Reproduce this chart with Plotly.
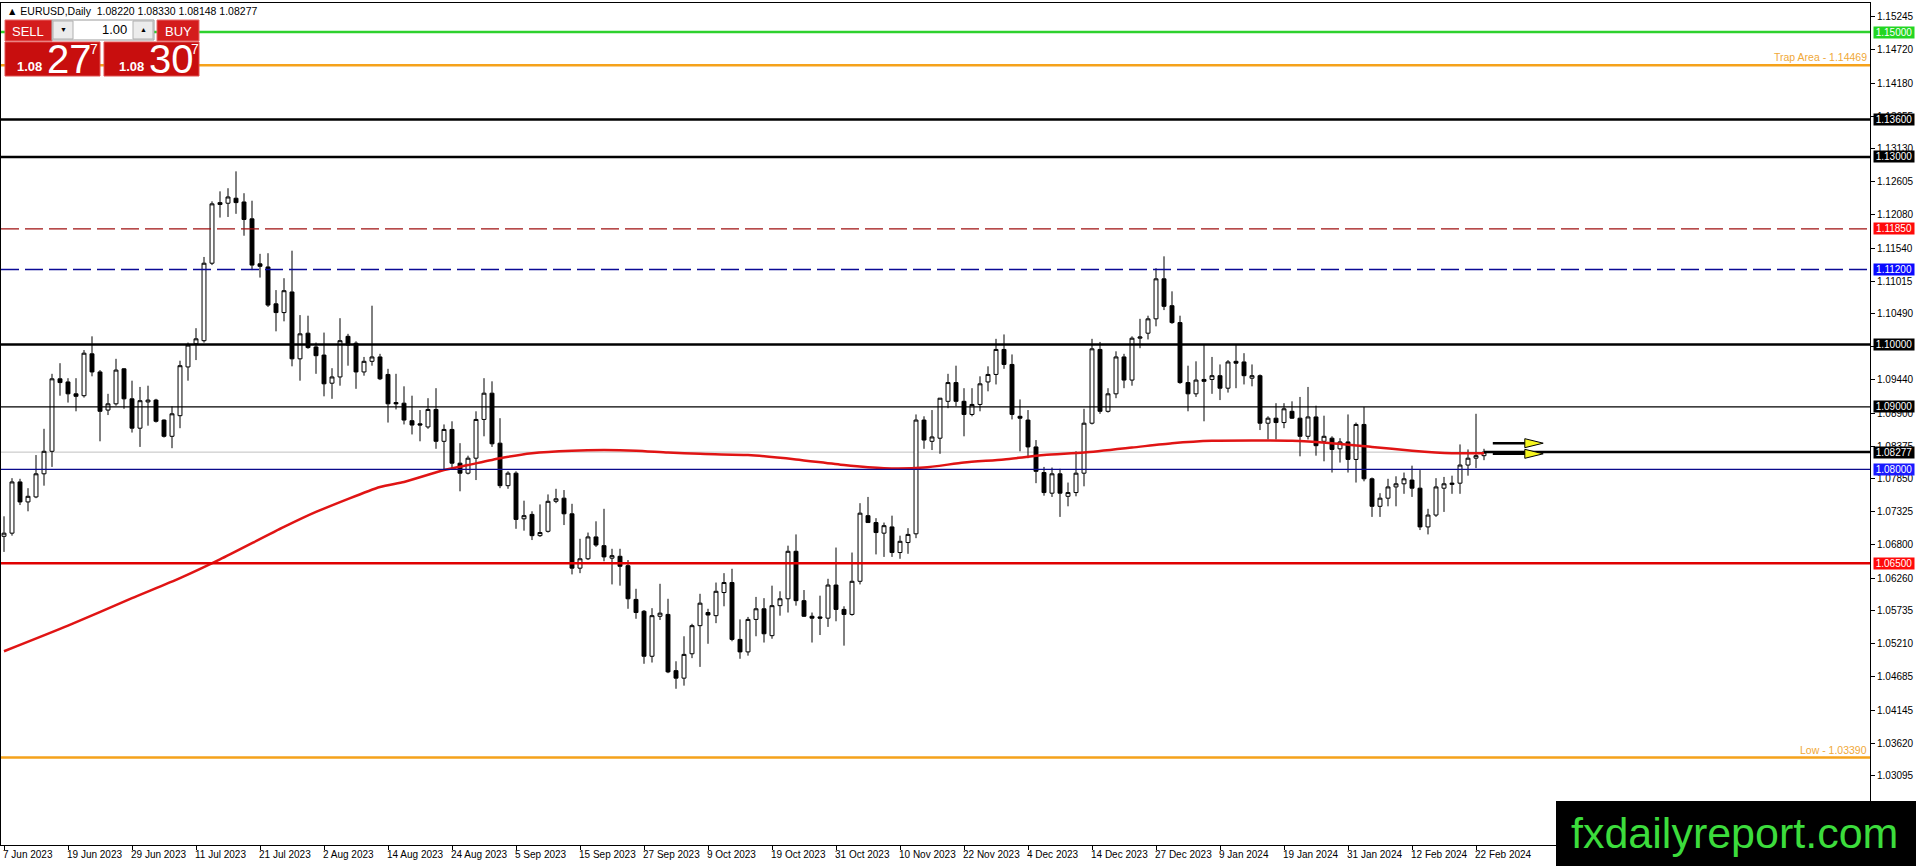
import plotly.graph_objects as go

# canvas and plot-area margins (pixels)
W, H = 1916, 866
ML, MR, MT, MB = 1, 46, 3, 21

# --- daily bars, 7 Jun 2023 .. 23 Feb 2024 ---
opens = [1.0693, 1.0698, 1.0780, 1.0748, 1.0756, 1.0793, 1.0829, 1.0945, 1.0940, 1.0921,
         1.0918, 1.0985, 1.0956, 1.0895, 1.0905, 1.0961, 1.0913, 1.0866, 1.0908, 1.0911,
         1.0879, 1.0853, 1.0886, 1.0964, 1.1001, 1.1006, 1.1130, 1.1224, 1.1226, 1.1234,
         1.1228, 1.1201, 1.1129, 1.1124, 1.1065, 1.1051, 1.1084, 1.0977, 1.1018, 1.0996,
         1.0983, 1.0938, 1.0948, 1.1013, 1.1002, 1.0956, 1.0973, 1.0980, 1.0952, 1.0907,
         1.0906, 1.0878, 1.0873, 1.0868, 1.0896, 1.0845, 1.0864, 1.0810, 1.0794, 1.0818,
         1.0880, 1.0922, 1.0842, 1.0774, 1.0794, 1.0721, 1.0728, 1.0694, 1.0701, 1.0749,
         1.0754, 1.0729, 1.0642, 1.0657, 1.0692, 1.0678, 1.0658, 1.0661, 1.0646, 1.0592,
         1.0573, 1.0501, 1.0565, 1.0568, 1.0478, 1.0466, 1.0505, 1.0550, 1.0571, 1.0566,
         1.0603, 1.0619, 1.0528, 1.0508, 1.0560, 1.0577, 1.0534, 1.0582, 1.0593, 1.0669,
         1.0590, 1.0565, 1.0564, 1.0562, 1.0615, 1.0576, 1.0568, 1.0621, 1.0726, 1.0715,
         1.0698, 1.0708, 1.0667, 1.0683, 1.0697, 1.0879, 1.0845, 1.0850, 1.0909, 1.0939,
         1.0909, 1.0888, 1.0904, 1.0940, 1.0952, 1.0992, 1.0968, 1.0885, 1.0879, 1.0836,
         1.0795, 1.0762, 1.0793, 1.0757, 1.0763, 1.0794, 1.0874, 1.0992, 1.0893, 1.0921,
         1.0980, 1.0943, 1.1010, 1.1018, 1.1041, 1.1105, 1.1062, 1.1035, 1.0939, 1.0921,
         1.0944, 1.0944, 1.0950, 1.0930, 1.0973, 1.0972, 1.0946, 1.0950, 1.0874, 1.0882,
         1.0875, 1.0893, 1.0882, 1.0853, 1.0884, 1.0845, 1.0850, 1.0833, 1.0844, 1.0816,
         1.0872, 1.0785, 1.0741, 1.0754, 1.0772, 1.0777, 1.0783, 1.0770, 1.0708, 1.0727,
         1.0770, 1.0776, 1.0778, 1.0807, 1.0818, 1.08220]
highs = [1.0725, 1.0786, 1.0785, 1.0770, 1.0823, 1.0865, 1.0953, 1.0970, 1.0946, 1.0946,
         1.0991, 1.1013, 1.0959, 1.0921, 1.0977, 1.0962, 1.0942, 1.0932, 1.0934, 1.0913,
         1.0880, 1.0901, 1.0974, 1.1003, 1.1026, 1.1140, 1.1229, 1.1245, 1.1250, 1.1277,
         1.1242, 1.1230, 1.1145, 1.1146, 1.1087, 1.1106, 1.1150, 1.1047, 1.1046, 1.1003,
         1.1019, 1.0962, 1.1042, 1.1017, 1.1005, 1.0980, 1.1062, 1.0985, 1.0961, 1.0953,
         1.0933, 1.0918, 1.0895, 1.0914, 1.0930, 1.0872, 1.0877, 1.0842, 1.0822, 1.0893,
         1.0946, 1.0941, 1.0882, 1.0797, 1.0797, 1.0750, 1.0733, 1.0744, 1.0760, 1.0769,
         1.0767, 1.0745, 1.0689, 1.0699, 1.0717, 1.0737, 1.0673, 1.0673, 1.0655, 1.0609,
         1.0575, 1.0578, 1.0617, 1.0593, 1.0493, 1.0533, 1.0553, 1.0601, 1.0577, 1.0619,
         1.0634, 1.0641, 1.0560, 1.0564, 1.0596, 1.0594, 1.0614, 1.0605, 1.0678, 1.0696,
         1.0607, 1.0571, 1.0598, 1.0625, 1.0675, 1.0581, 1.0667, 1.0746, 1.0756, 1.0722,
         1.0715, 1.0726, 1.0694, 1.0706, 1.0888, 1.0885, 1.0895, 1.0914, 1.0953, 1.0966,
         1.0930, 1.0930, 1.0949, 1.0965, 1.1009, 1.1016, 1.0984, 1.0912, 1.0895, 1.0847,
         1.0804, 1.0803, 1.0801, 1.0779, 1.0829, 1.0897, 1.1009, 1.1004, 1.0930, 1.0989,
         1.0985, 1.1013, 1.1041, 1.1046, 1.1122, 1.1141, 1.1085, 1.1046, 1.0966, 1.0973,
         1.1000, 1.0980, 1.0968, 1.0975, 1.1000, 1.0986, 1.0968, 1.0952, 1.0885, 1.0906,
         1.0906, 1.0909, 1.0916, 1.0932, 1.0902, 1.0886, 1.0853, 1.0850, 1.0888, 1.0875,
         1.0900, 1.0787, 1.0762, 1.0785, 1.0789, 1.0795, 1.0806, 1.0799, 1.0737, 1.0786,
         1.0788, 1.0790, 1.0840, 1.0832, 1.0889, 1.08330]
lows = [1.0668, 1.0694, 1.0743, 1.0733, 1.0754, 1.0774, 1.0804, 1.0918, 1.0907, 1.0893,
        1.0915, 1.0949, 1.0845, 1.0887, 1.0902, 1.0897, 1.0859, 1.0836, 1.0870, 1.0875,
        1.0851, 1.0834, 1.0866, 1.0942, 1.0975, 1.1003, 1.1127, 1.1203, 1.1204, 1.1209,
        1.1174, 1.1119, 1.1107, 1.1060, 1.1021, 1.1037, 1.0965, 1.0942, 1.0993, 1.0953,
        1.0917, 1.0913, 1.0934, 1.0966, 1.0929, 1.0950, 1.0966, 1.0943, 1.0875, 1.0896,
        1.0872, 1.0856, 1.0845, 1.0865, 1.0833, 1.0800, 1.0802, 1.0765, 1.0792, 1.0783,
        1.0853, 1.0836, 1.0770, 1.0769, 1.0705, 1.0702, 1.0687, 1.0692, 1.0699, 1.0746,
        1.0711, 1.0632, 1.0634, 1.0655, 1.0676, 1.0653, 1.0616, 1.0614, 1.0577, 1.0561,
        1.0489, 1.0491, 1.0559, 1.0474, 1.0449, 1.0454, 1.0498, 1.0484, 1.0521, 1.0554,
        1.0581, 1.0525, 1.0497, 1.0502, 1.0533, 1.0523, 1.0529, 1.0566, 1.0571, 1.0582,
        1.0564, 1.0523, 1.0535, 1.0548, 1.0557, 1.0518, 1.0566, 1.0616, 1.0715, 1.0664,
        1.0660, 1.0660, 1.0657, 1.0665, 1.0690, 1.0833, 1.0831, 1.0825, 1.0898, 1.0901,
        1.0853, 1.0885, 1.0893, 1.0925, 1.0936, 1.0961, 1.0880, 1.0829, 1.0818, 1.0778,
        1.0758, 1.0756, 1.0724, 1.0741, 1.0757, 1.0773, 1.0872, 1.0889, 1.0891, 1.0914,
        1.0930, 1.0934, 1.0994, 1.1008, 1.1029, 1.1055, 1.1033, 1.0937, 1.0893, 1.0916,
        1.0877, 1.0921, 1.0911, 1.0923, 1.0930, 1.0936, 1.0933, 1.0863, 1.0848, 1.0848,
        1.0866, 1.0881, 1.0821, 1.0848, 1.0822, 1.0813, 1.0795, 1.0811, 1.0795, 1.0779,
        1.0781, 1.0724, 1.0724, 1.0741, 1.0741, 1.0761, 1.0756, 1.0703, 1.0696, 1.0724,
        1.0732, 1.0761, 1.0761, 1.0790, 1.0802, 1.08148]
closes = [1.0698, 1.0780, 1.0748, 1.0757, 1.0793, 1.0829, 1.0945, 1.0939, 1.0921, 1.0917,
          1.0986, 1.0956, 1.0893, 1.0905, 1.0959, 1.0913, 1.0866, 1.0910, 1.0911, 1.0877,
          1.0853, 1.0889, 1.0966, 1.0999, 1.1009, 1.1130, 1.1225, 1.1227, 1.1236, 1.1227,
          1.1200, 1.1127, 1.1125, 1.1063, 1.1051, 1.1086, 1.0977, 1.1017, 1.0995, 1.0982,
          1.0937, 1.0948, 1.1006, 1.0999, 1.0956, 1.0973, 1.0980, 1.0945, 1.0905, 1.0905,
          1.0879, 1.0871, 1.0871, 1.0896, 1.0845, 1.0864, 1.0810, 1.0794, 1.0818, 1.0880,
          1.0922, 1.0841, 1.0774, 1.0794, 1.0720, 1.0726, 1.0694, 1.0699, 1.0749, 1.0753,
          1.0729, 1.0642, 1.0657, 1.0692, 1.0679, 1.0660, 1.0662, 1.0645, 1.0593, 1.0571,
          1.0501, 1.0566, 1.0570, 1.0476, 1.0466, 1.0504, 1.0550, 1.0586, 1.0567, 1.0605,
          1.0619, 1.0528, 1.0508, 1.0560, 1.0577, 1.0537, 1.0582, 1.0593, 1.0669, 1.0590,
          1.0565, 1.0562, 1.0562, 1.0615, 1.0576, 1.0568, 1.0621, 1.0730, 1.0715, 1.0699,
          1.0710, 1.0667, 1.0685, 1.0696, 1.0879, 1.0847, 1.0852, 1.0914, 1.0939, 1.0909,
          1.0888, 1.0904, 1.0937, 1.0952, 1.0992, 1.0968, 1.0888, 1.0882, 1.0836, 1.0797,
          1.0763, 1.0793, 1.0762, 1.0763, 1.0794, 1.0874, 1.0993, 1.0893, 1.0921, 1.0980,
          1.0943, 1.1010, 1.1012, 1.1041, 1.1105, 1.1061, 1.1035, 1.0939, 1.0921, 1.0943,
          1.0941, 1.0950, 1.0930, 1.0972, 1.0970, 1.0950, 1.0950, 1.0874, 1.0882, 1.0875,
          1.0897, 1.0882, 1.0853, 1.0884, 1.0838, 1.0853, 1.0832, 1.0844, 1.0816, 1.0872,
          1.0785, 1.0741, 1.0754, 1.0772, 1.0777, 1.0785, 1.0770, 1.0708, 1.0727, 1.0772,
          1.0777, 1.0778, 1.0807, 1.0818, 1.0822, 1.08277]

# date labels every 8 bars
tick_labels = ["7 Jun 2023", "19 Jun 2023", "29 Jun 2023", "11 Jul 2023", "21 Jul 2023",
               "2 Aug 2023", "14 Aug 2023", "24 Aug 2023", "5 Sep 2023", "15 Sep 2023",
               "27 Sep 2023", "9 Oct 2023", "19 Oct 2023", "31 Oct 2023", "10 Nov 2023",
               "22 Nov 2023", "4 Dec 2023", "14 Dec 2023", "27 Dec 2023", "9 Jan 2024",
               "19 Jan 2024", "31 Jan 2024", "12 Feb 2024", "22 Feb 2024"]
tick_step = 8

# moving average
ma_bars = [0, 8, 16, 22, 27, 35, 39, 47, 50, 55, 58, 62, 66, 71, 75, 79, 83, 87, 93,
           99, 105, 110, 115, 120, 125, 130, 135, 141, 146, 151, 161, 166, 171, 176, 181, 185]
ma_values = [1.0509, 1.0550, 1.0594, 1.0626, 1.0656, 1.0708, 1.0732, 1.0772, 1.0780, 1.0799,
             1.0807, 1.0818, 1.0826, 1.0830, 1.0831, 1.0830, 1.0827, 1.0825, 1.0823, 1.0816,
             1.0807, 1.0802, 1.0803, 1.0811, 1.0816, 1.0823, 1.0827, 1.0835, 1.0842, 1.0846,
             1.0846, 1.0842, 1.0836, 1.0830, 1.0826, 1.0826]

# price axis ticks
y_ticks = [1.15245, 1.14720, 1.14180, 1.13655, 1.13130, 1.12605, 1.12080, 1.11540, 1.11015,
           1.10490, 1.09965, 1.09440, 1.08900, 1.08375, 1.07850, 1.07325, 1.06800, 1.06260,
           1.05735, 1.05210, 1.04685, 1.04145, 1.03620, 1.03095]

# horizontal levels
level_prices = [1.15000, 1.14469, 1.13600, 1.13000, 1.11850, 1.11200, 1.10000, 1.09000,
                1.08000, 1.06500, 1.03390]
trap_area = 1.14469
period_low = 1.03390
last_price = 1.08277
arrow_prices = [1.0842, 1.0825]
header = "▲ EURUSD,Daily  1.08220 1.08330 1.08148 1.08277"

y_range = [1.01990, 1.15464]
x_range = [-0.375, 233.25]

FONT = "Liberation Sans, Arial, sans-serif"
pw = W - ML - MR
ph = H - MT - MB


def fx(px):
    return (px - ML) / pw


def fy(py):
    return (H - MB - py) / ph


px_per_price = ph / (y_range[1] - y_range[0])

fig = go.Figure()

fig.add_trace(go.Candlestick(
    x=list(range(len(opens))), open=opens, high=highs, low=lows, close=closes,
    increasing=dict(line=dict(color="black", width=1), fillcolor="white"),
    decreasing=dict(line=dict(color="black", width=1), fillcolor="black"),
    whiskerwidth=0, showlegend=False, hoverinfo="skip"))

fig.add_trace(go.Scatter(
    x=ma_bars, y=ma_values, mode="lines",
    line=dict(color="#e01414", width=2.5, shape="spline", smoothing=0.6),
    showlegend=False, hoverinfo="skip"))

shapes = []
annotations = []

# bid line (grey, full width)
shapes.append(dict(type="line", xref="paper", yref="y", x0=0, x1=1, y0=last_price, y1=last_price,
                   line=dict(color="#c0c0c0", width=1), layer="below"))

level_style = {
    1.15000: ("#2ed12e", 2.5, "solid"),
    1.14469: ("#f5a21b", 2.5, "solid"),
    1.13600: ("black", 2.5, "solid"),
    1.13000: ("black", 2.5, "solid"),
    1.11850: ("#a01010", 1.4, "18px,6px"),
    1.11200: ("#0a0a96", 1.4, "18px,6px"),
    1.10000: ("black", 2.5, "solid"),
    1.09000: ("black", 1.3, "solid"),
    1.08000: ("#0a0a8c", 1.3, "solid"),
    1.06500: ("#e00000", 2.5, "solid"),
    1.03390: ("#f5a21b", 2.5, "solid"),
}
for p in level_prices:
    c, w, d = level_style[p]
    shapes.append(dict(type="line", xref="paper", yref="y", x0=0, x1=1, y0=p, y1=p,
                       line=dict(color=c, width=w, dash=d)))

# thick line from the last bar to the right
shapes.append(dict(type="line", xref="x", yref="y", x0=len(opens) - 1, x1=x_range[1],
                   y0=last_price, y1=last_price, line=dict(color="black", width=2.5)))

# yellow arrows
tri_h = 4.5 / px_per_price
for p in arrow_prices:
    x0 = len(opens) + 0.1
    shapes.append(dict(type="line", xref="x", yref="y", x0=x0, x1=x0 + 4.2, y0=p, y1=p,
                       line=dict(color="black", width=2.5)))
    path = f"M {x0 + 4.0} {p + tri_h} L {x0 + 6.3} {p} L {x0 + 4.0} {p - tri_h} Z"
    shapes.append(dict(type="path", xref="x", yref="y", path=path,
                       fillcolor="#f5f51e", line=dict(color="black", width=1)))

# price boxes on the axis
box_style = [(1.15000, "#22d622"), (1.13600, "black"), (1.13000, "black"), (1.11850, "#ff0a0a"),
             (1.11200, "#0a0aff"), (1.10000, "black"), (1.09000, "black"), (last_price, "black"),
             (1.08000, "#1a1aff"), (1.06500, "#ff0a0a")]
for p, bg in box_style:
    annotations.append(dict(xref="paper", yref="y", x=1, y=p, xanchor="left", yanchor="middle",
                            xshift=3, text=f"{p:.5f}", showarrow=False, bgcolor=bg,
                            width=40, height=11, borderpad=0,
                            font=dict(family=FONT, size=10, color="white")))

annotations.append(dict(xref="paper", yref="y", x=1, y=trap_area, xanchor="right", yanchor="bottom",
                        xshift=-1, yshift=0, text=f"Trap Area - {trap_area:.5f}", showarrow=False,
                        font=dict(family=FONT, size=10.5, color="#f0a838")))
annotations.append(dict(xref="paper", yref="y", x=1, y=period_low, xanchor="right", yanchor="bottom",
                        xshift=-1, yshift=0, text=f"Low - {period_low:.5f}", showarrow=False,
                        font=dict(family=FONT, size=10.5, color="#f0a838")))

# date labels
for i, lab in enumerate(tick_labels):
    annotations.append(dict(xref="x", yref="paper", x=i * tick_step, y=0, xanchor="left", yanchor="top",
                            xshift=-3, yshift=-2, text=lab, showarrow=False,
                            font=dict(family=FONT, size=10, color="black")))

# header
annotations.append(dict(xref="paper", yref="paper", x=fx(5), y=fy(11), xanchor="left", yanchor="middle",
                        text=header, showarrow=False, font=dict(family=FONT, size=10.5, color="black")))


# one-click trading panel
def rect(x0, y0, x1, y1, fill, line="rgba(0,0,0,0)", lw=0):
    shapes.append(dict(type="rect", xref="paper", yref="paper", x0=fx(x0), x1=fx(x1),
                       y0=fy(y0), y1=fy(y1), fillcolor=fill, line=dict(color=line, width=lw),
                       layer="above"))


def label(x, y, text, size, color="white", anchor="center", bold=False):
    if bold:
        text = f"<b>{text}</b>"
    annotations.append(dict(xref="paper", yref="paper", x=fx(x), y=fy(y), xanchor=anchor,
                            yanchor="middle", text=text, showarrow=False,
                            font=dict(family=FONT, size=size, color=color)))


rect(5, 20, 52, 41, "#d41c1c", "#e86a6a", 1)
rect(157, 20, 199, 41, "#d41c1c", "#e86a6a", 1)
rect(5, 42, 100, 76, "#c80e0e", "#e05050", 1)
rect(104, 42, 199, 76, "#c80e0e", "#e05050", 1)
rect(52, 20, 154, 40, "white", "#9a9a9a", 1)
rect(53, 21, 73, 39, "#ececec", "#b0b0b0", 1)
rect(133, 21, 153, 39, "#ececec", "#b0b0b0", 1)
label(28, 31, "SELL", 13)
label(178, 31, "BUY", 13)
label(129, 30, "1.00", 13, "black", "right")
label(63, 30, "▼", 7, "black")
label(143, 30, "▲", 7, "black")
label(15, 66, "1.08", 13, "white", "left", True)
label(45, 59, "27", 40, "white", "left")
label(88, 49, "7", 14, "white", "left")
label(117, 66, "1.08", 13, "white", "left", True)
label(147, 59, "30", 40, "white", "left")
label(189, 49, "7", 14, "white", "left")

# watermark
shapes.append(dict(type="rect", xref="paper", yref="paper", x0=fx(1556), x1=fx(1918),
                   y0=fy(868), y1=fy(801), fillcolor="black", line=dict(width=0), layer="above"))
annotations.append(dict(xref="paper", yref="paper", x=fx(1734), y=fy(833), xanchor="center",
                        yanchor="middle", text="fxdailyreport.com", showarrow=False,
                        font=dict(family=FONT, size=43, color="#3cdc3c")))

fig.update_layout(
    width=W, height=H,
    margin=dict(l=ML, r=MR, t=MT, b=MB),
    paper_bgcolor="white", plot_bgcolor="white",
    showlegend=False,
    shapes=shapes, annotations=annotations,
    xaxis=dict(range=x_range, rangeslider=dict(visible=False), showgrid=False, zeroline=False,
               showline=True, linecolor="black", linewidth=1, mirror=True,
               tickvals=[i * tick_step for i in range(len(tick_labels))], ticks="outside",
               ticklen=4, tickcolor="black", showticklabels=False, fixedrange=True),
    yaxis=dict(range=y_range, side="right", showgrid=False, zeroline=False,
               showline=True, linecolor="black", linewidth=1, mirror=True,
               tickvals=y_ticks, ticktext=[f"{v:.5f}" for v in y_ticks],
               ticks="outside", ticklen=4, tickcolor="black",
               tickfont=dict(family=FONT, size=10, color="black"), fixedrange=True),
)

# no page margin so the figure fills the window exactly
fig.write_html("out.html", config={"displayModeBar": False},
               post_script="document.body.style.margin='0';document.body.style.overflow='hidden';")
